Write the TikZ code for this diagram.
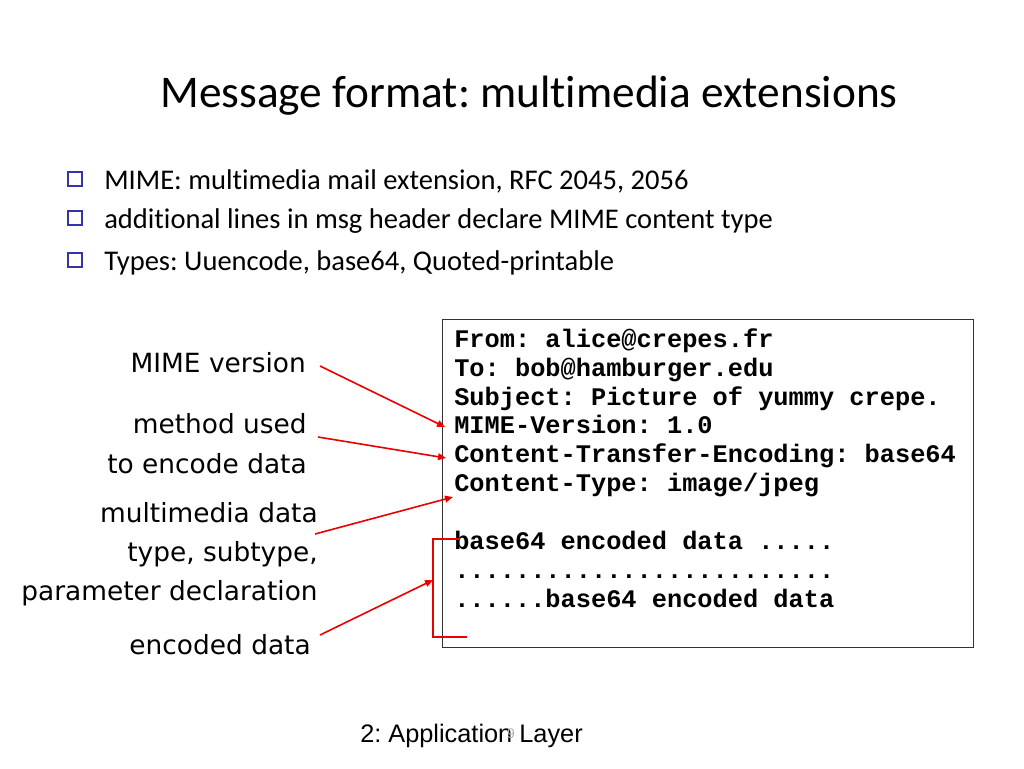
\documentclass[tikz,border=0pt]{standalone}
\usepackage{fontspec}
\setmainfont{Carlito}[Ligatures=NoCommon]
\setmonofont{Liberation Mono}
\newfontfamily\notefont{DejaVu Sans}
\newfontfamily\footfont{Liberation Sans}
\usetikzlibrary{arrows.meta}
\definecolor{bulletblue}{RGB}{51,51,170}
\definecolor{pointred}{RGB}{235,0,0}
\frenchspacing

\begin{document}
\begin{tikzpicture}[x=0.75pt, y=-0.75pt]
	\tikzstyle{every node} = [inner sep=0pt]
	\tikzstyle{bulletbox} = [draw=bulletblue, line width=1.6pt, minimum size=10.5pt, fill=white]
	\tikzstyle{itemtext} = [anchor=base west, font=\fontsize{21.4}{25}\selectfont]
	\tikzstyle{notetext} = [anchor=base east, font=\notefont\fontsize{19.8}{22}\selectfont]
	\tikzstyle{msgline} = [anchor=base west, font=\ttfamily\bfseries\fontsize{19}{22}\selectfont]
	\tikzstyle{pointer} = [draw=pointred, line width=1.2pt, -{Triangle[length=6pt,width=5pt]}]
	\useasboundingbox (0,0) rectangle (1024,768);
	% title and bullets
	\node (title) [anchor=base, font=\fontsize{34}{40}\selectfont] at (529,107) {Message format: multimedia extensions};
	\node[bulletbox] (b1) at (75,179) {};
	\node[bulletbox] (b2) at (75,218) {};
	\node[bulletbox] (b3) at (75,260) {};
	\node[itemtext] (t1) at (104,189.5) {MIME: multimedia mail extension, RFC 2045, 2056};
	\node[itemtext] (t2) at (104,228.5) {additional lines in msg header declare MIME content type};
	\node[itemtext] (t3) at (104,270) {Types: Uuencode, base64, Quoted-printable};
	% message
	\node (msgbox) [draw=black!80, line width=0.8pt, minimum width=398pt, minimum height=246pt, anchor=north west] at (442,319) {};
	\node[msgline] (from)    at (454,347) {From: alice@crepes.fr};
	\node[msgline] (to)      at (454,376) {To: bob@hamburger.edu};
	\node[msgline] (subj)    at (454,405) {Subject: Picture of yummy crepe.};
	\node[msgline] (mimever) at (454,433) {MIME-Version: 1.0};
	\node[msgline] (cte)     at (454,462) {Content-Transfer-Encoding: base64};
	\node[msgline] (ctype)   at (454,491) {Content-Type: image/jpeg};
	\node[msgline] (data1)   at (454,549) {base64 encoded data .....};
	\node[msgline] (data2)   at (454,578) {.........................};
	\node[msgline] (data3)   at (454,607) {......base64 encoded data};
	% notes
	\node[notetext] (lver)   at (306,372) {MIME version};
	\node[notetext] (lmeth1) at (307,433) {method used};
	\node[notetext] (lmeth2) at (307,473) {to encode data};
	\node[notetext] (ltype1) at (318,522) {multimedia data};
	\node[notetext] (ltype2) at (318,561) {type, subtype,};
	\node[notetext] (ltype3) at (318,600) {parameter declaration};
	\node[notetext] (lenc)   at (311,654) {encoded data};
	\draw[pointer] ([shift={(14,-6)}]lver.base east) -- ([shift={(-9,-6)}]mimever.base west);
	\draw[pointer] ([shift={(11,4)}]lmeth1.base east) -- ([shift={(-8,-4)}]cte.base west);
	\draw[pointer] ([shift={(-3,12)}]ltype1.base east) -- ([shift={(-1,6)}]ctype.base west);
	\coordinate (brtop) at ([shift={(6,-10)}]data1.base west);
	\coordinate (brbot) at ([shift={(13,30)}]data3.base west);
	\draw[draw=pointred, line width=1.2pt] (brtop) -- ++(-27,0) |- (brbot);
	\draw[pointer] ([shift={(9,-19)}]lenc.base east) -- ([shift={(-27,41)}]brtop);
	% footer
	\node (foot) [anchor=base west, font=\footfont\fontsize{19}{22}\selectfont] at (360,742) {2: Application Layer};
	\node (pagenum) [anchor=base, text=gray!60, font=\footfont\fontsize{10.5}{12}\selectfont] at (511,738) {9};
\end{tikzpicture}
\end{document}
